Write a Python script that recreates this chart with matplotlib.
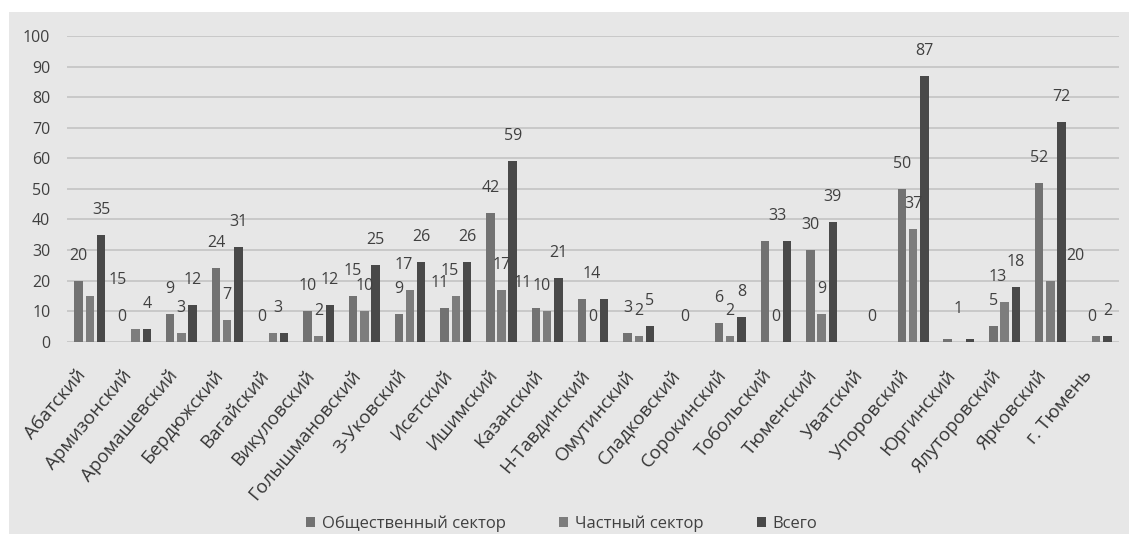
import numpy as np
import matplotlib
matplotlib.use("Agg")
import matplotlib.pyplot as plt
from matplotlib.patches import Rectangle, Patch
from matplotlib.transforms import ScaledTranslation

plt.rcParams['font.family'] = ['Open Sans', 'DejaVu Sans']

# Districts of the region
districts = ['Абатский', 'Армизонский', 'Аромашевский', 'Бердюжский', 'Вагайский',
             'Викуловский', 'Голышмановский', 'З-Уковский', 'Исетский', 'Ишимский',
             'Казанский', 'Н-Тавдинский', 'Омутинский', 'Сладковский', 'Сорокинский',
             'Тобольский', 'Тюменский', 'Уватский', 'Упоровский', 'Юргинский',
             'Ялуторовский', 'Ярковский', 'г. Тюмень']

nan = np.nan
public_sector = [20, 0, 9, 24, 0, 10, 15, 9, 11, 42, 11, 14, 3, nan, 6, 33, 30, nan, 50, 1, 5, 52, 0]
private_sector = [15, 4, 3, 7, 3, 2, 10, 17, 15, 17, 10, 0, 2, 0, 2, 0, 9, 0, 37, nan, 13, 20, 2]
total = [35, 4, 12, 31, 3, 12, 25, 26, 26, 59, 21, 14, 5, nan, 8, 33, 39, nan, 87, 1, 18, 72, 2]

series_names = ['Общественный сектор', 'Частный сектор', 'Всего']
series_values = [public_sector, private_sector, total]
colors = ['#727272', '#7d7d7d', '#494949']

# value labels that were left out, keyed by (district index, series index)
hidden_labels = {(1, 1), (4, 2), (11, 2), (15, 2), (19, 2), (22, 1)}
# manual nudges of value labels in pixels (dx right, dy up)
label_nudges = {(0, 1): (28, -9), (1, 0): (-3, 0), (4, 1): (5, 0), (7, 1): (-6, 0),
                (8, 0): (-5, 0), (8, 1): (-6, 0), (10, 0): (-13, 0), (10, 1): (-6, 0),
                (11, 0): (10, 0), (15, 0): (13, 0), (17, 1): (4, 0), (19, 0): (10, 5),
                (20, 1): (-7, 0), (21, 1): (25, 0), (22, 0): (7, 0)}

W, H = 1129, 534
fig = plt.figure(figsize=(W / 100, H / 100), dpi=100)
fig.patch.set_facecolor('white')
fig.add_artist(Rectangle((9 / W, 0), 1 - 9 / W, 1 - 12 / H, transform=fig.transFigure,
                         facecolor='#e7e7e7', edgecolor='none', zorder=-10))

ax = fig.add_axes([67 / W, (H - 341.7) / H, (1119 - 67) / W, 305.7 / H])
ax.set_facecolor('none')

x = np.arange(len(districts))
bar_w = 0.185
step = 0.245
text_color = '#404040'

for s, (vals, col) in enumerate(zip(series_values, colors)):
    xs = x + (s - 1) * step
    ax.bar(xs, vals, width=bar_w, color=col, zorder=3)
    for i, v in enumerate(vals):
        if np.isnan(v) or (i, s) in hidden_labels:
            continue
        dx, dy = label_nudges.get((i, s), (0, 0))
        ax.annotate(f'{int(v)}', (xs[i], v), xytext=(dx * 0.72, 18 + dy * 0.72),
                    textcoords='offset points', ha='center', va='center',
                    fontsize=11.5, color=text_color, zorder=4)

ax.set_xlim(-0.5, len(districts) - 0.5)
ax.set_ylim(0, 100)
ax.set_yticks(range(0, 101, 10))
ax.grid(axis='y', color='#c4c4c4', linewidth=1.2, zorder=0)
ax.set_axisbelow(True)
for sp in ax.spines.values():
    sp.set_visible(False)

ax.tick_params(axis='y', length=0, pad=12, labelsize=11.5, labelcolor=text_color)
ax.set_xticks(x)
ax.set_xticklabels(districts, rotation=50, ha='right', va='center',
                   rotation_mode='anchor', fontsize=13.5, color='#363636')
ax.tick_params(axis='x', length=0, pad=22)
shift = ScaledTranslation(-7 / 100, 0, fig.dpi_scale_trans)
for lab in ax.get_xticklabels():
    lab.set_transform(lab.get_transform() + shift)

handles = [Patch(facecolor=c, edgecolor='none') for c in colors]
fig.legend(handles, series_names, loc='center', bbox_to_anchor=(561.5 / W, 10 / H),
           ncol=3, frameon=False, fontsize=12, handlelength=0.55, handleheight=0.55,
           handletextpad=0.4, columnspacing=3.2, labelcolor=text_color)

fig.savefig('out.png', dpi=100, facecolor=fig.get_facecolor())
